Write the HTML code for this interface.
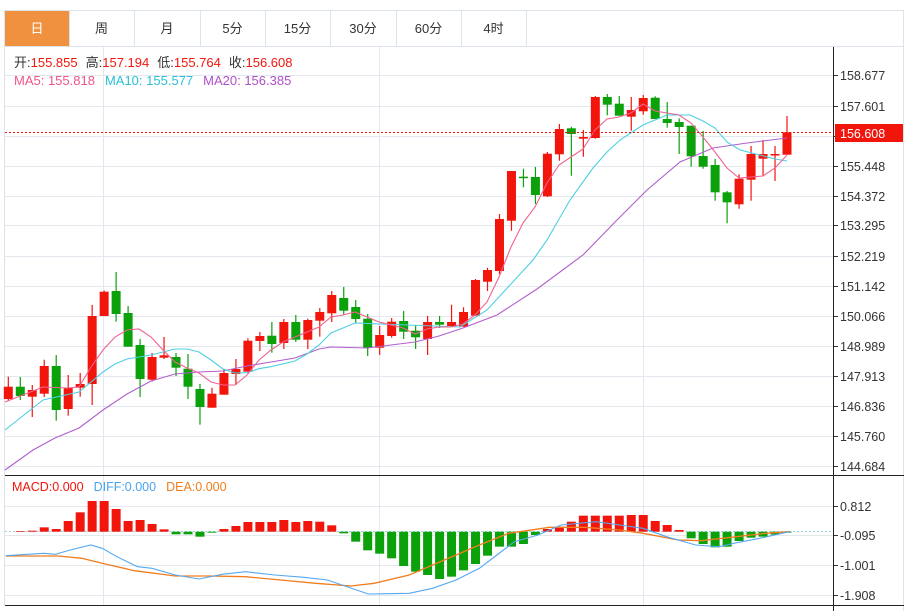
<!DOCTYPE html>
<html><head><meta charset="utf-8"><style>
body{margin:0;background:#fff;width:912px;height:611px;overflow:hidden;font-family:"Liberation Sans","Noto Sans CJK SC",sans-serif}
svg{position:absolute;left:0;top:0}
</style></head><body>
<svg id="s" width="912" height="611" xmlns="http://www.w3.org/2000/svg" font-family="Liberation Sans, Noto Sans CJK SC, sans-serif"></svg>
<script>
const s=document.getElementById('s');let h='';
const R='#f2150c',G='#0aa10a';
// frame & tabs
h+='<rect x="4.5" y="10.5" width="899" height="36" fill="#fff" stroke="#dde3ea"/>';
h+='<rect x="5" y="11" width="64" height="35" fill="#f0913f"/>';
const tabs=['日','周','月','5分','15分','30分','60分','4时'];const tb=[5,69,134,200,265,330,396,461,526];
for(let i=0;i<8;i++){ if(i>0)h+=`<line x1="${tb[i]+.5}" y1="11" x2="${tb[i]+.5}" y2="46" stroke="#dde3ea"/>`;
h+=`<text x="${(tb[i]+tb[i+1])/2}" y="33" font-size="13" text-anchor="middle" fill="${i?'#333':'#fff'}">${tabs[i]}</text>`;}
h+='<line x1="526.5" y1="11" x2="526.5" y2="46" stroke="#dde3ea"/>';
h+='<line x1="4.5" y1="46" x2="4.5" y2="606" stroke="#dde3ea"/><line x1="903.5" y1="46" x2="903.5" y2="611" stroke="#dde3ea"/>';
// grid
const py=[75,106,136,166,196,225,256,286,316,346,376,406,436,466];
const pl=['158.677','157.601','','155.448','154.372','153.295','152.219','151.142','150.066','148.989','147.913','146.836','145.760','144.684'];
py.forEach((y,i)=>{h+=`<line x1="5" y1="${y+.5}" x2="833" y2="${y+.5}" stroke="#e3e8ee"/>`;
 h+=`<line x1="833" y1="${y+.5}" x2="838" y2="${y+.5}" stroke="#333"/>`;
 if(pl[i])h+=`<text x="840" y="${y+5}" font-size="12.5" fill="#333">${pl[i]}</text>`;});
[103.5,379.5,643.5].forEach(x=>{h+=`<line x1="${x}" y1="47" x2="${x}" y2="475" stroke="#e3e8ee"/><line x1="${x}" y1="476" x2="${x}" y2="605" stroke="#e3e8ee"/>`;});
const my=[506,535,565,595],ml=['0.812','-0.095','-1.001','-1.908'];
my.forEach((y,i)=>{h+=`<line x1="5" y1="${y+.5}" x2="833" y2="${y+.5}" stroke="#e3e8ee"/><line x1="833" y1="${y+.5}" x2="838" y2="${y+.5}" stroke="#333"/><text x="840" y="${y+5}" font-size="12.5" fill="#333">${ml[i]}</text>`;});
h+='<line x1="5" y1="531.5" x2="833" y2="531.5" stroke="#9fd3ea" stroke-dasharray="2,2"/>';
// candles [x, top, bottom, hi, lo, up]
const C=[[8,386.7,399,376.7,400.7,1],[20,386.7,396,377,400,0],[32,390,396.7,385,417,1],[44,366,393.7,359.7,397,1],[56,366,410,355,420.7,0],[68,387.7,409,375,415.7,1],[80,384,387.7,373,396.7,1],[92,316,384,305,405,1],[104,291.7,316,290.5,316,1],[116,291,314,272,321.7,0],[128,313,346.7,306,346.7,0],[140,345,379,339,397,0],[152,357,379.7,353,381.5,1],[164,355.3,357.7,337,359,1],[176,357,367.7,353,376,0],[188,368.7,386.7,354,399,0],[200,389,407,384,424.7,0],[212,393.7,407.7,387.7,407.7,1],[224,373,394.7,368.7,394.7,1],[236,369,374,359,385,1],[248,340.7,371.7,338.3,371.7,1],[260,336,341,332,351,1],[272,335.7,344,322,352.7,0],[284,322,343,319,349,1],[296,322,339.7,315,342,0],[308,320,339.7,318.7,349,1],[320,312,320.7,308,336.7,1],[332,295,313.3,291,322,1],[344,298,310.7,287,315,0],[356,307,319,300,323,0],[368,318.7,348,314,356,0],[380,335,347.7,326,355,1],[392,321.7,336,318,337.7,1],[404,321,331.7,311,339,0],[416,330.7,337.3,325,349,0],[428,322,339,316,355,1],[440,322,324.7,316,328,0],[452,322,326,304.7,326.7,1],[464,312,326.7,307.3,326.7,1],[476,280,315.7,279,315.7,1],[488,270,281.7,267.7,291,1],[500,219,271,214,274,1],[512,171,220.7,171,230.7,1],[524,176.7,177.7,168.7,187.3,0],[536,177,195,167,204,0],[548,153.7,196.3,152,197,1],[560,129,154.3,124,160.7,1],[572,128.3,134,126.7,175.7,0],[584,137,138.7,130,156.7,1],[596,97,138,96,138.7,1],[608,97,104.7,94,115.3,0],[620,103.7,115.7,96,115.7,0],[632,110,116.7,97,130.7,1],[644,98,111.3,95,114.7,1],[656,97.7,119,96.3,119,0],[668,119,123,102,127.7,0],[680,122,127,118.3,154,0],[692,125.7,156.3,125.7,166.7,0],[704,156,166.7,131,168.7,0],[716,165,192.3,159,200.7,0],[728,192.3,202.3,191,223.3,0],[740,178.7,204.3,174.3,208.7,1],[752,154,179.7,146,200.7,1],[764,154,158.7,140,175.7,1],[776,154,155.3,146,181,1],[788,132.3,154.7,116,154.7,1]];
C.forEach((c,i)=>{const x=8.3+11.98*i,col=c[5]?R:G;
h+=`<line x1="${x}" y1="${c[3]}" x2="${x}" y2="${c[4]}" stroke="${col}" stroke-width="1.2"/>`;
h+=`<rect x="${x-4.5}" y="${c[1]}" width="9" height="${Math.max(1.5,c[2]-c[1])}" fill="${col}"/>`;});
function pl_(pts,col,w){return `<polyline fill="none" stroke="${col}" stroke-width="${w||1.1}" points="${pts.map(p=>p.join(',')).join(' ')}"/>`;}
const ma5=[[5,402],[43,387],[67,388],[79,387],[91,367],[103,350],[115,337],[127,330],[139,329],[151,337],[163,350],[175,362],[187,368],[199,373],[211,382],[223,385],[235,385],[247,375],[259,360],[271,350],[283,342],[295,337],[307,332],[319,327],[331,317],[343,315],[355,312],[367,317],[379,322],[391,325],[403,328],[415,334],[427,329],[439,327],[451,327],[463,324],[475,315],[487,302],[499,277],[511,247],[523,223],[535,207],[547,183],[559,165],[571,157],[583,149],[595,130],[607,119],[619,117],[631,113],[643,104],[655,111],[667,113],[679,115],[691,123],[703,137],[715,152],[727,168],[739,178],[751,177],[763,176],[775,168],[787,155]];
const ma10=[[5,430],[43,400],[79,392],[103,372],[115,364],[127,359],[151,355],[175,349],[187,349],[199,352],[211,360],[223,369],[235,373],[247,372.7],[259,368.7],[271,366.7],[295,361],[307,354],[319,345],[331,333],[343,328],[355,323],[460,327],[487,310],[510,285],[533,260],[547,240],[570,200],[593,168],[607,152],[620,140],[643,125],[667,115],[690,115],[703,121],[715,128],[727,142],[740,150],[760,155],[775,159],[787,161]];
const ma20=[[5,470],[33,450],[55,438],[79,428],[103,410],[127,394],[151,381],[175,374],[199,372],[223,371],[247,366],[271,362],[295,358],[319,349],[331,347],[367,348],[391,345],[415,342],[439,336],[463,328],[497,315],[537,289],[583,255],[617,220],[647,190],[680,162],[713,148],[747,143],[787,138]];
h+=pl_(ma20,'#b15fcc')+pl_(ma10,'#4dd0e1')+pl_(ma5,'#f06292');
// current price
h+='<line x1="5" y1="132.5" x2="833" y2="132.5" stroke="#f2150c" stroke-dasharray="2,2"/>';
h+='<rect x="835" y="124" width="68" height="18" fill="#f2150c"/><text x="840" y="138" font-size="12.5" fill="#fff">156.608</text>';
// legends
h+='<rect x="10" y="52" width="330" height="38" fill="#fff" fill-opacity="0"/>';
h+='<text x="14" y="67" font-size="13"><tspan fill="#333">开:</tspan><tspan fill="#f2150c">155.855</tspan><tspan fill="#333" dx="8">高:</tspan><tspan fill="#f2150c">157.194</tspan><tspan fill="#333" dx="8">低:</tspan><tspan fill="#f2150c">155.764</tspan><tspan fill="#333" dx="8">收:</tspan><tspan fill="#f2150c">156.608</tspan></text>';
h+='<text x="14" y="85" font-size="13"><tspan fill="#f0548a">MA5: 155.818</tspan><tspan fill="#2cc0d8" dx="10">MA10: 155.577</tspan><tspan fill="#b04fc8" dx="10">MA20: 156.385</tspan></text>';
// separators
h+='<line x1="5" y1="475.5" x2="904" y2="475.5" stroke="#222"/><line x1="5" y1="605.5" x2="904" y2="605.5" stroke="#222"/>';
h+='<line x1="833.5" y1="47" x2="833.5" y2="611" stroke="#222"/>';
h+='<text x="12" y="491" font-size="12.5"><tspan fill="#f2150c">MACD:0.000</tspan><tspan fill="#4aa3ee" dx="10">DIFF:0.000</tspan><tspan fill="#f07d1e" dx="10">DEA:0.000</tspan></text>';
// macd hist
const M=[185,183,182,172,177,153,127,93,93,117,153,150,162,178,193,193,200,188,177,168,156,156,156,150,156,153,155,166,190,215,241,251,265,288,305,315,327,320,301,282,257,230,230,222,195,177,170,155,137,137,137,137,135,135,153,165,180,205,222,232,230,213,203,200,194,188];
const z=531.7;
M.forEach((v,i)=>{const x=8.3+11.98*i,y=470+v/3;if(Math.abs(y-z)<0.4)return;
const t=Math.min(y,z),hh=Math.abs(y-z);h+=`<rect x="${x-4.5}" y="${t}" width="9" height="${hh}" fill="${y<z?R:G}"/>`;});
const cv=a=>a.map(p=>[(p[0]/1.7105).toFixed(1),(470+p[1]/3).toFixed(1)]);
const diff=[[10,257],[75,250],[95,253],[120,240],[155,225],[175,235],[200,260],[235,290],[260,295],[300,315],[340,327],[380,313],[420,305],[470,315],[520,322],[560,330],[590,348],[630,372],[700,370],[740,355],[780,330],[820,295],[850,255],[880,215],[920,195],[960,165],[1020,155],[1060,165],[1100,175],[1140,200],[1190,225],[1230,230],[1260,218],[1300,205],[1350,185]];
const dea=[[10,258],[100,258],[140,265],[180,282],[230,302],[300,318],[360,318],[420,320],[480,330],[540,340],[600,348],[640,340],[700,315],[760,270],[820,225],[870,190],[940,172],[1000,172],[1060,180],[1100,190],[1160,210],[1200,212],[1260,200],[1310,190],[1350,185]];
h+=pl_(cv(dea),'#f07d1e',1.3)+pl_(cv(diff),'#55a8f0',1.1);
s.innerHTML=h;
</script>
</body></html>
